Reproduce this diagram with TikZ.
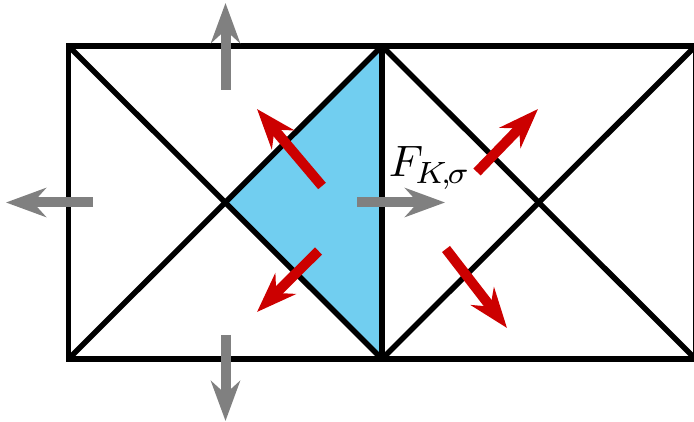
\documentclass[tikz,border=0pt]{standalone}
\usetikzlibrary{arrows.meta}
\definecolor{cellblue}{RGB}{113,206,240}
\definecolor{fluxred}{RGB}{204,0,0}
\definecolor{fluxgray}{RGB}{128,128,128}
\tikzset{
  edge/.style={line width=5.5pt, line join=miter, black},
  fluxarrow/.style={line width=10pt, -{Stealth[length=40pt,width=29pt,inset=13pt]}},
  grayflux/.style={fluxarrow, fluxgray},
  redflux/.style={fluxarrow, fluxred},
}
\begin{document}
\begin{tikzpicture}[x=1pt,y=-1pt]
\useasboundingbox (0,0) rectangle (694,422);
% mesh points
\coordinate (A) at (68.5,46);
\coordinate (B) at (382,46);
\coordinate (C) at (695.5,46);
\coordinate (D) at (68.5,359);
\coordinate (E) at (382,359);
\coordinate (F) at (695.5,359);
\coordinate (M1) at (225.25,202.5);
\coordinate (M2) at (538.75,202.5);
% shaded triangle
\fill[cellblue] (M1) -- (B) -- (E) -- cycle;
% mesh
\begin{scope}
\clip (0,0) rectangle (694,422);
\draw[edge] (A) rectangle (E);
\draw[edge] (B) rectangle (F);
\draw[edge] (A) -- (E);
\draw[edge] (D) -- (B);
\draw[edge] (B) -- (F);
\draw[edge] (E) -- (C);
\end{scope}
% gray fluxes
\coordinate (gt1) at (225.5,90);  \coordinate (gt2) at (225.5,3);
\coordinate (gl1) at (93,202.5);  \coordinate (gl2) at (6,202.5);
\coordinate (gb1) at (225.5,335); \coordinate (gb2) at (225.5,421);
\coordinate (gr1) at (357,202.5); \coordinate (gr2) at (445,202.5);
\draw[grayflux] (gt1) -- (gt2);
\draw[grayflux] (gl1) -- (gl2);
\draw[grayflux] (gb1) -- (gb2);
\draw[grayflux] (gr1) -- (gr2);
% red fluxes
\coordinate (r11) at (322,186);  \coordinate (r12) at (257,109);
\coordinate (r21) at (318.5,251); \coordinate (r22) at (257,312);
\coordinate (r31) at (477,172);  \coordinate (r32) at (538,109);
\coordinate (r41) at (446,249);  \coordinate (r42) at (507,328);
\draw[redflux] (r11) -- (r12);
\draw[redflux] (r21) -- (r22);
\draw[redflux] (r31) -- (r32);
\draw[redflux] (r41) -- (r42);
% label
\node[anchor=base west, inner sep=0pt, scale=4.4] (lab) at (388,177)
  {$F_{\mkern-1mu K\mkern-3mu,\mkern-2mu\sigma}$};
\end{tikzpicture}
\end{document}
